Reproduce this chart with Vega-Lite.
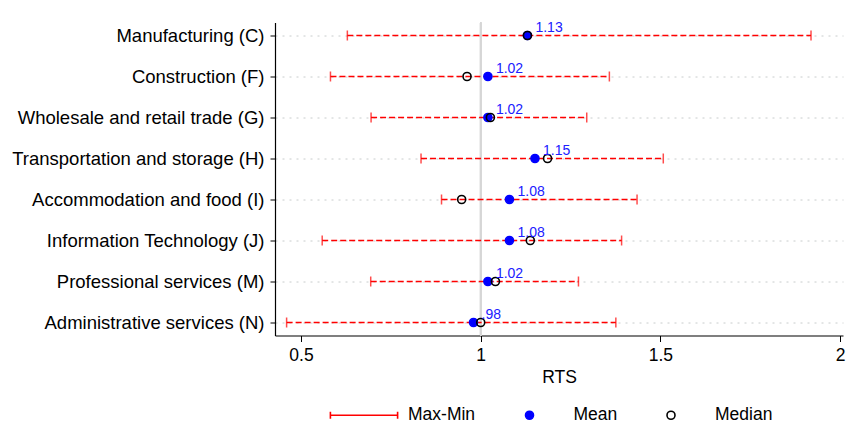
{
  "$schema": "https://vega.github.io/schema/vega-lite/v6.json",
  "width": 568,
  "height": 313,
  "autosize": {"type": "none"},
  "padding": {"left": 275, "top": 22.5, "right": 3, "bottom": 91.5},
  "background": "white",
  "config": {
    "view": {"stroke": null},
    "font": "Liberation Sans",
    "axis": {"labelFont": "Liberation Sans", "titleFont": "Liberation Sans", "labelColor": "black", "titleColor": "black", "domainColor": "black", "tickColor": "black"},
    "legend": {"labelFont": "Liberation Sans", "labelFontSize": 17.5, "labelColor": "black"}
  },
  "data": {
    "values": [
      {"sector": "Manufacturing (C)", "min": 0.629, "max": 1.919, "Mean": 1.13, "Median": 1.13, "label": "1.13"},
      {"sector": "Construction (F)", "min": 0.582, "max": 1.358, "Mean": 1.02, "Median": 0.962, "label": "1.02"},
      {"sector": "Wholesale and retail trade (G)", "min": 0.695, "max": 1.295, "Mean": 1.02, "Median": 1.027, "label": "1.02"},
      {"sector": "Transportation and storage (H)", "min": 0.834, "max": 1.508, "Mean": 1.151, "Median": 1.186, "label": "1.15"},
      {"sector": "Accommodation and food (I)", "min": 0.891, "max": 1.435, "Mean": 1.08, "Median": 0.947, "label": "1.08"},
      {"sector": "Information Technology (J)", "min": 0.559, "max": 1.392, "Mean": 1.08, "Median": 1.138, "label": "1.08"},
      {"sector": "Professional services (M)", "min": 0.694, "max": 1.272, "Mean": 1.02, "Median": 1.041, "label": "1.02"},
      {"sector": "Administrative services (N)", "min": 0.46, "max": 1.376, "Mean": 0.98, "Median": 1.0, "label": ".98"}
    ]
  },
  "encoding": {
    "y": {
      "field": "sector", "type": "nominal", "sort": null, "title": null,
      "scale": {"type": "point", "padding": 0.317},
      "axis": {"labelFontSize": 18.5, "tickSize": 5, "labelPadding": 6, "grid": true, "gridColor": "#c8cccc", "gridDash": [2, 5], "gridWidth": 1, "domainWidth": 1.2, "labelLimit": 400}
    }
  },
  "layer": [
    {
      "mark": {"type": "rule", "color": "#d6d6d6", "strokeWidth": 1.5},
      "encoding": {"x": {"datum": 1}, "y": null}
    },
    {
      "mark": {"type": "rule", "color": "#ff0000", "strokeWidth": 1.3, "strokeDash": [6, 3]},
      "encoding": {
        "x": {
          "field": "min", "type": "quantitative", "title": "RTS",
          "scale": {"domain": [0.4277, 2.008], "nice": false, "zero": false},
          "axis": {"values": [0.5, 1, 1.5, 2], "format": ".1~f", "labelFontSize": 17.5, "titleFontSize": 17.5, "titleFontWeight": "normal", "tickSize": 6, "labelPadding": 5, "titlePadding": 4.5, "grid": false, "domainWidth": 1.2, "labelFlush": false}
        },
        "x2": {"field": "max"}
      }
    },
    {
      "mark": {"type": "tick", "color": "#ff0000", "thickness": 1.5, "size": 10, "orient": "vertical"},
      "encoding": {"x": {"field": "min", "type": "quantitative"}}
    },
    {
      "mark": {"type": "tick", "color": "#ff0000", "thickness": 1.5, "size": 10, "orient": "vertical"},
      "encoding": {"x": {"field": "max", "type": "quantitative"}}
    },
    {
      "transform": [{"fold": ["Mean", "Median"], "as": ["stat", "value"]}],
      "mark": {"type": "point", "size": 256, "strokeWidth": 1.6, "opacity": 1},
      "encoding": {
        "x": {"field": "value", "type": "quantitative"},
        "shape": {
          "field": "stat", "type": "nominal",
          "scale": {"domain": ["Max-Min", "Mean", "Median"], "range": ["M-4.2,-0.45L-4.2,0.45M-4.2,0L4.2,0M4.2,-0.45L4.2,0.45", "M-0.5,0A0.5,0.5 0 1,0 0.5,0A0.5,0.5 0 1,0 -0.5,0Z", "M-0.5,0A0.5,0.5 0 1,0 0.5,0A0.5,0.5 0 1,0 -0.5,0Z"]},
          "legend": {"title": null, "orient": "none", "direction": "horizontal", "legendX": 80, "legendY": 383.5, "symbolSize": 256, "symbolStrokeWidth": 1.6, "labelOffset": 35, "columnPadding": 44.5, "symbolOpacity": 1}
        },
        "stroke": {
          "field": "stat", "type": "nominal",
          "scale": {"domain": ["Max-Min", "Mean", "Median"], "range": ["#ff0000", "#0000ff", "#000000"]},
          "legend": {"title": null, "orient": "none", "direction": "horizontal", "legendX": 80, "legendY": 383.5, "symbolSize": 256, "symbolStrokeWidth": 1.6, "labelOffset": 35, "columnPadding": 44.5, "symbolOpacity": 1}
        },
        "fill": {
          "field": "stat", "type": "nominal",
          "scale": {"domain": ["Max-Min", "Mean", "Median"], "range": ["transparent", "#0000ff", "transparent"]},
          "legend": {"title": null, "orient": "none", "direction": "horizontal", "legendX": 80, "legendY": 383.5, "symbolSize": 256, "symbolStrokeWidth": 1.6, "labelOffset": 35, "columnPadding": 44.5, "symbolOpacity": 1}
        }
      }
    },
    {
      "mark": {"type": "text", "align": "left", "baseline": "alphabetic", "dx": 8, "dy": -3.5, "fontSize": 14, "color": "#2020ff", "font": "Liberation Sans"},
      "encoding": {"x": {"field": "Mean", "type": "quantitative"}, "text": {"field": "label"}}
    }
  ]
}
